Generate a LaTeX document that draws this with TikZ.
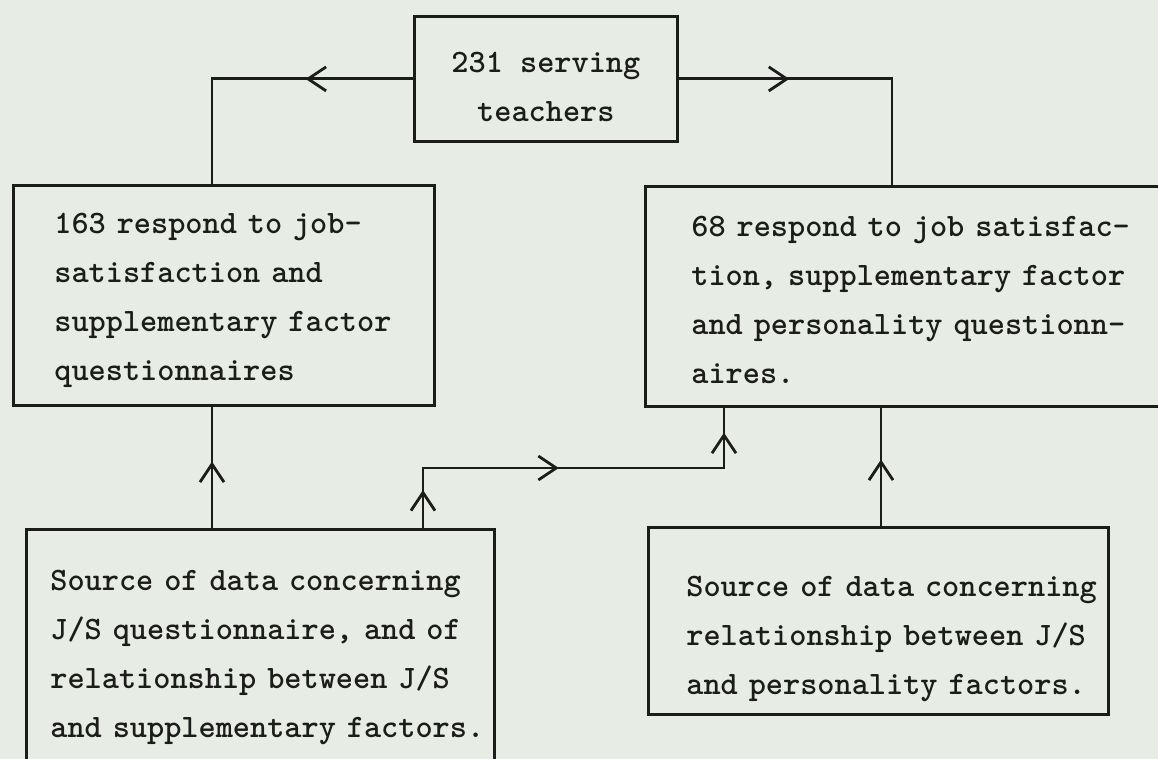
\documentclass[tikz,border=0pt]{standalone}
\usepackage{fontspec}
\usepackage{tikz}
\usetikzlibrary{arrows.meta, positioning, calc, decorations.markings}
\definecolor{PaperTone}{HTML}{E7ECE5}
\definecolor{TypeInk}{HTML}{1C1C1A}

\begin{document}
\begin{tikzpicture}[
    x=0.5pt, y=-0.5pt,
    font=\ttfamily\bfseries\fontsize{16.35pt}{24.5pt}\selectfont,
    barb/.tip={Straight Barb[length=9pt, width=12pt]},
    flowbox/.style={
      rectangle,
      draw=TypeInk,
      line width=1.4pt,
      text=TypeInk,
      anchor=north west,
      inner xsep=2pt,
      inner ysep=0pt,
      text height=0pt,
      align=left,
    },
    textinset/.style={execute at begin node={\leftskip=#1\relax}},
    link/.style={draw=TypeInk, line width=1.4pt},
    arrowat/.style={
      postaction={decorate},
      decoration={markings, mark=at position #1 with {\arrow{barb}}},
    },
  ]
    \path[use as bounding box, fill=PaperTone] (0,0) rectangle (1158,759);
    \clip (0,0) rectangle (1158,759);

    % boxes
    \node[flowbox, align=center, minimum width=131.5pt, minimum height=62.5pt,
      text height=42.5pt, text depth=0pt]
      (teachers) at (413,15) {231 serving\\teachers};
    \node[flowbox, text width=206.5pt, minimum height=110pt, textinset=18.5pt,
      text depth=62pt]
      (resp163) at (12,184) {%
      163 respond to job-\\
      satisfaction and\\
      supplementary factor\\
      questionnaires};
    \node[flowbox, text width=268pt, minimum height=110pt, textinset=21pt,
      text depth=60pt]
      (resp68) at (644,185) {%
      68 respond to job satisfac-\\
      tion, supplementary factor\\
      and personality questionn-\\
      aires.};
    \node[flowbox, text width=230pt, minimum height=128pt, textinset=10pt,
      text depth=67pt]
      (src163) at (25,528) {%
      Source of data concerning\\
      J/S questionnaire, and of\\
      relationship between J/S\\
      and supplementary factors.};
    \node[flowbox, text width=226pt, minimum height=93.5pt, textinset=17pt,
      text depth=24.5pt]
      (src68) at (647,526) {%
      Source of data concerning\\
      relationship between J/S\\
      and personality factors.};

    % lanes of the connectors
    \coordinate (lane1) at (212,0);
    \coordinate (lane2) at (892,0);
    \coordinate (fork) at (423,468);
    \coordinate (lane3) at (724,0);
    \coordinate (lane4) at (881,0);

    \draw[link, arrowat=0.351] (teachers.west) -| (resp163.north -| lane1);
    \draw[link, arrowat=0.346] (teachers.east) -| (resp68.north -| lane2);
    \draw[link, arrowat=0.548] (src163.north -| lane1) -- (resp163.south -| lane1);
    \draw[link, postaction={decorate}, decoration={markings,
        mark=at position 0.09 with {\arrow{barb}},
        mark=at position 0.465 with {\arrow{barb}},
        mark=at position 0.941 with {\arrow{barb}}}]
      (src163.north -| fork) -- (fork) -| (resp68.south -| lane3);
    \draw[link, arrowat=0.562] (src68.north -| lane4) -- (resp68.south -| lane4);
\end{tikzpicture}
\end{document}
